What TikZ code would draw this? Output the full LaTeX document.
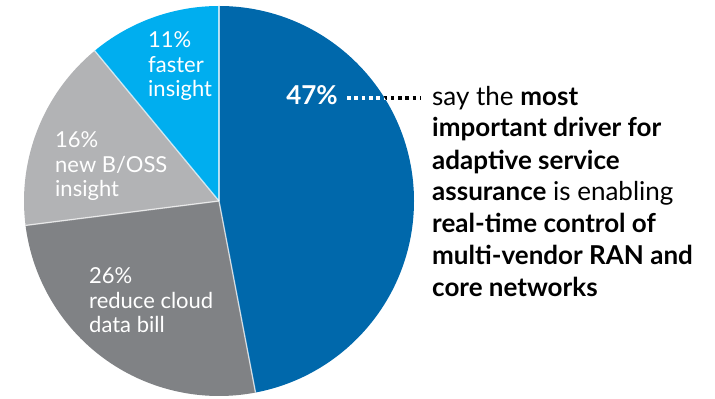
\documentclass[tikz,border=0pt]{standalone}
\usepackage{fontspec}
\setmainfont{Lato}
\usetikzlibrary{positioning}

\definecolor{pieblue}{HTML}{0068AB}
\definecolor{piesky}{HTML}{00AEEF}
\definecolor{pielight}{HTML}{B2B3B5}
\definecolor{piedark}{HTML}{808285}

\begin{document}
\begin{tikzpicture}[x=1pt, y=1pt,
    slicelabel/.style={anchor=base west, inner sep=0pt, text=white, align=left,
      font=\fontsize{22}{24.5}\selectfont},
    separator/.style={white, opacity=0.7, line width=1.3pt},
    leader/.style={line width=3.6pt, dash pattern=on 3.6pt off 3.7pt, shorten >=11pt}]
  \useasboundingbox (0,0) rectangle (715,399);
  \coordinate (c) at (219,198);

  % Draw the four slices, clockwise from the top
  \fill[pieblue] (c) -- ++(90:195) arc[start angle=90, end angle=-79.2, radius=195] -- cycle;
  \fill[piedark] (c) -- ++(-79.2:195) arc[start angle=-79.2, end angle=-172.8, radius=195] -- cycle;
  \fill[pielight] (c) -- ++(-172.8:195) arc[start angle=-172.8, end angle=-230.4, radius=195] -- cycle;
  \fill[piesky] (c) -- ++(-230.4:195) arc[start angle=-230.4, end angle=-270, radius=195] -- cycle;

  % Thin lines between the slices
  \foreach \a in {90,-79.2,-172.8,-230.4}
    \draw[separator] (c) -- ++(\a:195);

  % Slice labels (anchored on the baseline of their last line)
  \node[slicelabel] (faster) at (148,302) {11\%\\faster\\insight};
  \node[slicelabel] (boss) at (55,202) {16\%\\new B/OSS\\insight};
  \node[slicelabel] (cloud) at (89,66) {26\%\\reduce cloud\\data bill};
  \node[anchor=base east, inner sep=0pt, text=white, font=\fontsize{26}{30}\selectfont\bfseries]
    (pct47) at (338,294) {47\%};

  % Explanation beside the chart
  \node[anchor=base west, inner sep=0pt, align=left, font=\fontsize{26}{32}\selectfont]
    (driver) at (432,102) {say the \textbf{most}\\
      \textbf{important driver for}\\
      \textbf{adaptive service}\\
      \textbf{assurance} is enabling\\
      \textbf{real-time control of}\\
      \textbf{multi-vendor RAN and}\\
      \textbf{core networks}};

  % Dotted leader: black outside the pie, white inside it
  \coordinate (dotstart) at ([xshift=9pt, yshift=7pt]pct47.base east);
  \draw[leader, black] (dotstart) -- (dotstart -| driver.west);
  \begin{scope}
    \clip (c) circle (195);
    \draw[leader, white] (dotstart) -- (dotstart -| driver.west);
  \end{scope}
\end{tikzpicture}
\end{document}
